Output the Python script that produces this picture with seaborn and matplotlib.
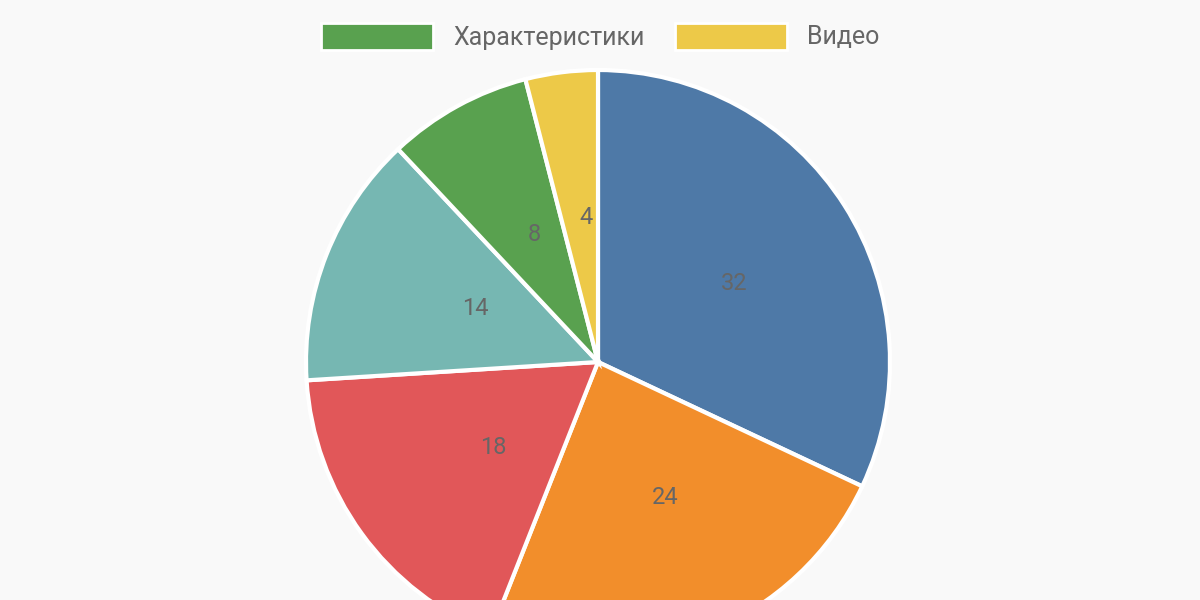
import matplotlib
matplotlib.use("Agg")
import matplotlib.pyplot as plt
import seaborn as sns
from matplotlib.patches import Patch

sns.set_theme(style="white")
plt.rcParams['font.family'] = ['Roboto', 'DejaVu Sans']

values = [32, 24, 18, 14, 8, 4]
colors = ["#4e79a7", "#f28e2b", "#e15759", "#76b7b2", "#59a14f", "#edc948"]
legend_labels = ["Характеристики", "Видео"]
legend_colors = ["#59a14f", "#edc948"]

fig = plt.figure(figsize=(12, 6), dpi=100, facecolor="#f9f9f9")
ax = fig.add_axes([0, 0, 1, 1])
ax.set_facecolor("#f9f9f9")
ax.pie(values, colors=colors, labels=[str(v) for v in values], labeldistance=0.5,
       startangle=90, counterclock=False, center=(598, 238), radius=292,
       wedgeprops=dict(edgecolor="white", linewidth=3),
       textprops=dict(color="#666666", fontsize=17))
ax.set_xlim(0, 1200)
ax.set_ylim(0, 600)
ax.set_aspect("equal")
ax.axis("off")
handles = [Patch(facecolor=c, edgecolor="white", linewidth=2) for c in legend_colors]
leg = fig.legend(handles, legend_labels, loc="upper center", bbox_to_anchor=(0.5, 1.0),
                 ncol=2, frameon=False, fontsize=18, handlelength=4.5, handleheight=1.3,
                 columnspacing=1.2, labelcolor="#666666")
fig.savefig("out.png", dpi=100, facecolor="#f9f9f9")
